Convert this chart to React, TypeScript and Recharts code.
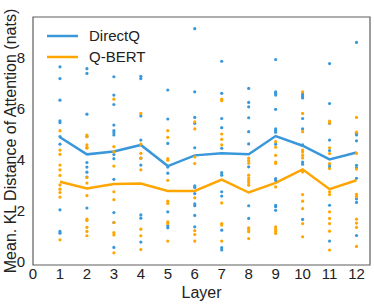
import React from "react";
import { ComposedChart, Line, Scatter, XAxis, YAxis, Legend, Label, ReferenceArea } from "recharts";

const LAYERS = [1, 2, 3, 4, 5, 6, 7, 8, 9, 10, 11, 12];
const DIRECTQ_MEAN = [4.87, 4.2, 4.31, 4.57, 3.74, 4.16, 4.24, 4.2, 4.92, 4.54, 4.0, 4.27];
const QBERT_MEAN   = [3.12, 2.86, 3.03, 3.05, 2.76, 2.76, 3.21, 2.7, 3.08, 3.61, 2.83, 3.18];

// per-head values, one list per layer
const DIRECTQ_HEADS = [
  [7.64, 7.18, 6.33, 5.52, 5.45, 4.9, 4.6, 2.02, 1.17, 1.1],
  [7.57, 7.38, 5.78, 4.9, 3.88, 3.7, 3.5, 3.31, 2.09],
  [7.25, 6.53, 6.16, 5.35, 5.13, 5.05, 4.96, 4.19, 4.03, 3.22, 1.91, 1.52, 0.54],
  [7.27, 7.18, 5.71, 4.76, 4.05, 3.78, 1.82, 1.69, 0.75],
  [6.73, 5.59, 4.63, 3.7, 3.46, 1.94, 1.39, 1.31],
  [9.14, 6.66, 5.65, 5.42, 4.46, 2.96, 2.9, 2.66, 2.25, 2.18, 1.8, 1.35],
  [7.86, 6.6, 5.61, 5.25, 4.44, 3.48, 3.38, 2.73, 2.56, 1.22, 0.53, 0.44],
  [6.79, 6.24, 6.07, 5.64, 5.09, 4.61, 3.71, 2.18, 1.68],
  [7.93, 6.66, 6.6, 6.53, 5.97, 5.2, 5.13, 5.07, 4.6, 3.25, 3.18, 2.2, 2.14, 2.0],
  [6.57, 6.49, 6.42, 5.61, 5.2, 4.57, 3.9, 3.81, 1.64],
  [7.77, 6.2, 5.42, 4.76, 4.35, 3.8, 3.7, 2.2, 0.79],
  [8.6, 5.03, 4.96, 4.73, 3.77, 3.67, 3.26, 2.45, 2.31, 1.01],
];
const QBERT_HEADS = [
  [5.13, 4.37, 4.2, 3.78, 3.59, 3.37, 3.0, 2.83, 2.7, 2.52, 0.84],
  [4.96, 4.9, 4.57, 4.48, 4.44, 3.29, 3.07, 2.58, 1.65, 1.6, 1.33, 1.17, 1.0],
  [6.37, 4.5, 4.3, 3.74, 2.73, 2.42, 1.52, 1.12, 1.03, 0.33],
  [5.81, 4.6, 4.24, 4.05, 3.59, 1.26, 1.0, 0.46],
  [5.13, 4.87, 4.03, 3.97, 3.18, 2.36, 2.27, 1.55, 1.48, 0.79],
  [5.48, 5.2, 4.1, 3.84, 2.49, 1.2, 1.05, 0.79],
  [6.37, 6.31, 5.0, 4.79, 4.57, 2.29, 1.48, 1.42, 0.79],
  [4.05, 3.95, 3.85, 3.38, 3.27, 3.18, 3.09, 2.99, 1.31, 1.25, 1.16, 0.89],
  [4.7, 4.48, 4.16, 3.9, 3.84, 2.92, 1.35, 1.26, 1.18, 1.09],
  [6.66, 5.81, 5.09, 4.37, 4.29, 4.16, 4.06, 3.58, 3.51, 2.62, 2.36, 2.07, 1.48, 0.96],
  [5.51, 5.44, 4.46, 4.23, 3.84, 3.64, 2.73, 2.62, 1.94, 1.68, 1.48, 1.18, 0.44],
  [5.65, 5.07, 4.24, 3.62, 2.63, 2.54, 1.65, 1.5, 1.33, 0.58],
];

const X_TICKS = [0, 1, 2, 3, 4, 5, 6, 7, 8, 9, 10, 11, 12];
const Y_TICKS = [0, 2, 4, 6, 8];

const BLUE = "#3a98da";
const ORANGE = "#ffa500";
const FONT = "'Liberation Sans', Arial, sans-serif";

const means = LAYERS.map((layer, i) => ({ layer, directq: DIRECTQ_MEAN[i], qbert: QBERT_MEAN[i] }));
const flat = (heads: number[][]) =>
  heads.flatMap((vals, i) => vals.map(v => ({ layer: LAYERS[i], v })));

const dot = (color: string) => (p: any) => <circle cx={p.cx} cy={p.cy} r={1.6} fill={color} />;

const renderLegend = () => (
  <div style={{ fontFamily: FONT, fontSize: 15, color: "#222" }}>
    {[
      { name: "DirectQ", color: BLUE },
      { name: "Q-BERT", color: ORANGE },
    ].map(({ name, color }) => (
      <div key={name} style={{ display: "flex", alignItems: "center", height: 21 }}>
        <svg width={42} height={6}>
          <line x1={0} y1={3} x2={31} y2={3} stroke={color} strokeWidth={2.5} />
        </svg>
        <span>{name}</span>
      </div>
    ))}
  </div>
);

export default function App() {
  return (
    <div style={{ position: "absolute", left: 0, top: 0, background: "#fff" }}>
      <ComposedChart width={374} height={304} data={means}
        margin={{ top: 17, right: 4, left: 0, bottom: 0 }}>
        <XAxis dataKey="layer" type="number" domain={[0, 12.5]} ticks={X_TICKS}
          axisLine={false} tickLine={false} height={39} interval={0}
          tick={{ fontFamily: FONT, fontSize: 15, fill: "#222", dy: -5 }}>
          <Label value="Layer" position="insideBottom" offset={6}
            style={{ fontFamily: FONT, fontSize: 16, fill: "#222" }} />
        </XAxis>
        <YAxis type="number" domain={[-0.15, 9.6]} ticks={Y_TICKS} width={33}
          axisLine={false} tickLine={false}
          tick={{ fontFamily: FONT, fontSize: 15, fill: "#222" }}>
          <Label value="Mean. KL Distance of Attention (nats)" angle={-90} position="center" dx={-6}
            style={{ fontFamily: FONT, fontSize: 16, fill: "#222" }} />
        </YAxis>
        <ReferenceArea x1={0} x2={12.5} y1={-0.15} y2={9.6} fill="none" stroke="#5e5e5e" strokeWidth={1.2} />
        <Scatter data={flat(DIRECTQ_HEADS)} dataKey="v" shape={dot(BLUE)} isAnimationActive={false} legendType="none" />
        <Scatter data={flat(QBERT_HEADS)} dataKey="v" shape={dot(ORANGE)} isAnimationActive={false} legendType="none" />
        <Line dataKey="directq" name="DirectQ" stroke={BLUE} strokeWidth={2.5} dot={false} isAnimationActive={false} />
        <Line dataKey="qbert" name="Q-BERT" stroke={ORANGE} strokeWidth={2.5} dot={false} isAnimationActive={false} />
        <Legend layout="vertical" align="center" verticalAlign="middle" content={renderLegend}
          wrapperStyle={{ position: "absolute", left: 47, top: 25, width: "auto" }} />
      </ComposedChart>
    </div>
  );
}
